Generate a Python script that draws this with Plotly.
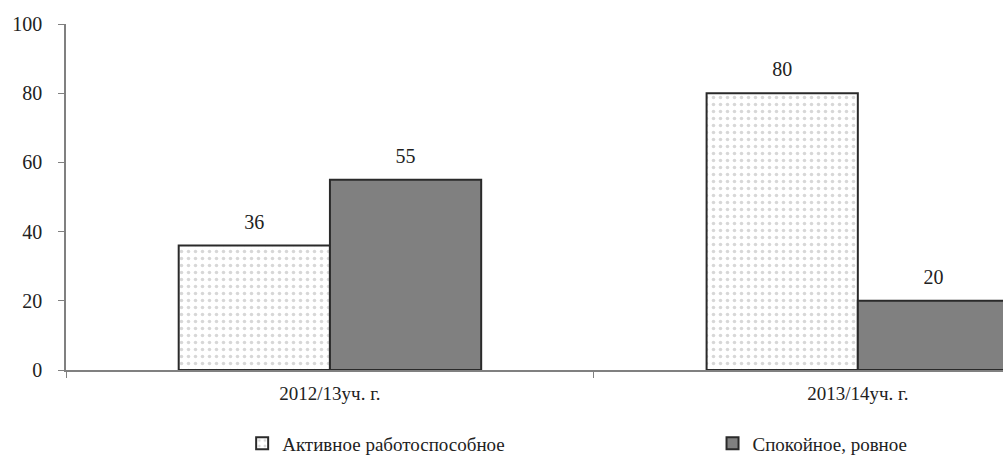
import plotly.graph_objects as go

categories = ["2012/13уч. г.", "2013/14уч. г."]
series_names = ["Активное работоспособное", "Спокойное, ровное"]
active_values = [36, 80]
calm_values = [55, 20]
y_ticks = [0, 20, 40, 60, 80, 100]

FONT = "'Liberation Serif', 'Times New Roman', serif"
LABEL_TMPL = "<span style='font-size:20px'>%{y}</span><br> "

fig = go.Figure()
fig.add_trace(go.Bar(
    x=categories, y=active_values, name=series_names[0],
    texttemplate=LABEL_TMPL, textposition="outside",
    textfont=dict(size=9, color="#222", family=FONT),
    marker=dict(color="white", line=dict(color="#2a2a2a", width=2),
                pattern=dict(shape=".", fgcolor="#b0b0b0", bgcolor="white", size=7, solidity=0.2)),
    cliponaxis=False, legend="legend", hoverinfo="skip",
))
fig.add_trace(go.Bar(
    x=categories, y=calm_values, name=series_names[1],
    texttemplate=LABEL_TMPL, textposition="outside",
    textfont=dict(size=9, color="#222", family=FONT),
    marker=dict(color="#808080", line=dict(color="#2a2a2a", width=2)),
    cliponaxis=False, legend="legend2", hoverinfo="skip",
))

legend_common = dict(orientation="h", y=-0.212, xanchor="left", yanchor="middle",
                     itemwidth=30, bgcolor="rgba(0,0,0,0)",
                     font=dict(size=19, family=FONT, color="#222"))

fig.update_layout(
    width=1003, height=457,
    margin=dict(l=66, r=0, t=24, b=87, autoexpand=False),
    paper_bgcolor="white", plot_bgcolor="white",
    barmode="group", bargap=0.427, bargroupgap=0,
    font=dict(family=FONT, size=20, color="#222"),
    showlegend=True,
    legend=dict(x=0.188, **legend_common),
    legend2=dict(x=0.69, **legend_common),
    xaxis=dict(type="category", range=[-0.5, 1.275], showline=True, linecolor="#808080", linewidth=1.5,
               ticks="outside", tickson="boundaries", ticklen=6, tickcolor="#808080",
               showgrid=False, zeroline=False, tickfont=dict(size=19, family=FONT, color="#222"),
               ticklabelstandoff=5, automargin=False),
    yaxis=dict(range=[0, 100], tickvals=y_ticks, showline=True, linecolor="#808080", linewidth=1.5,
               ticks="outside", ticklen=6, tickcolor="#808080", showgrid=False, zeroline=False,
               tickfont=dict(size=20, family=FONT, color="#222"), ticklabelstandoff=12,
               automargin=False),
)

fig.write_html("out.html", config={"displayModeBar": False},
               post_script="document.body.style.margin='0';document.body.style.overflow='hidden';")
